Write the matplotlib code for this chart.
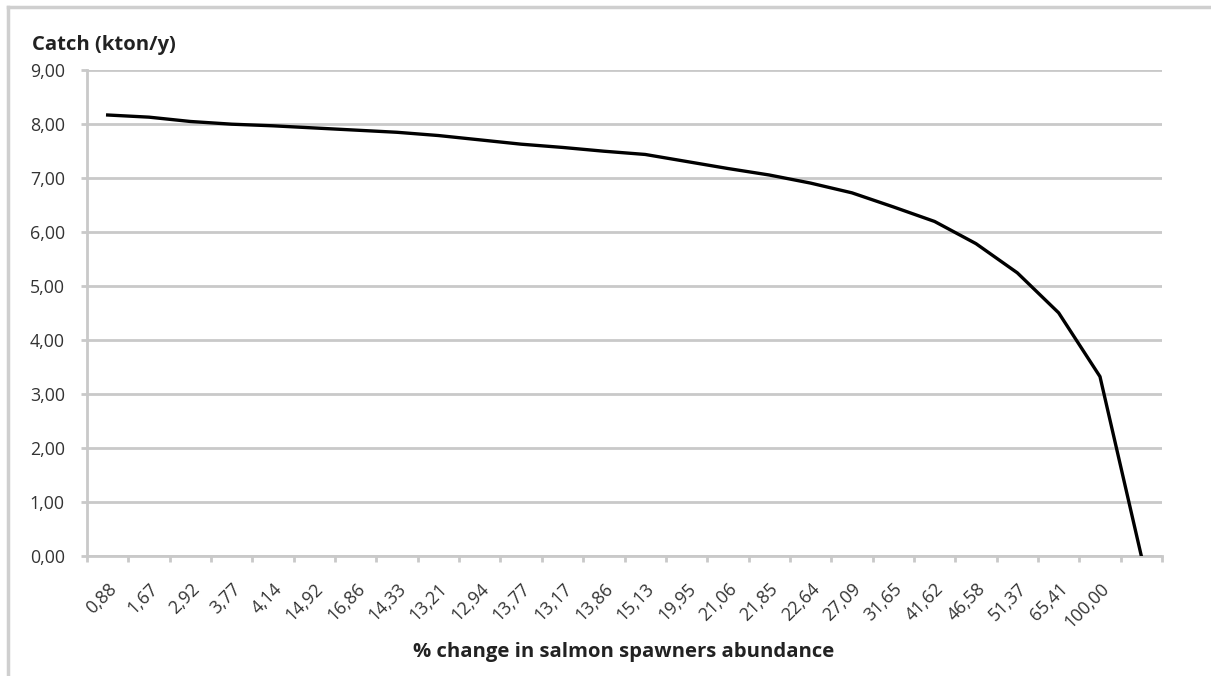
import matplotlib
matplotlib.use("Agg")
import matplotlib.pyplot as plt
from matplotlib.lines import Line2D
import numpy as np

# Salmon spawner abundance change (%) per scenario, and resulting catch
categories = ["0,88", "1,67", "2,92", "3,77", "4,14", "14,92", "16,86", "14,33",
              "13,21", "12,94", "13,77", "13,17", "13,86", "15,13", "19,95",
              "21,06", "21,85", "22,64", "27,09", "31,65", "41,62", "46,58",
              "51,37", "65,41", "100,00", ""]
catch = [8.16, 8.12, 8.04, 7.99, 7.96, 7.92, 7.88, 7.84, 7.78, 7.70, 7.62,
         7.56, 7.49, 7.43, 7.30, 7.17, 7.05, 6.90, 6.72, 6.46, 6.19, 5.78,
         5.24, 4.50, 3.32, 0.00]
y_ticks = [0, 1, 2, 3, 4, 5, 6, 7, 8, 9]

GRID = "#c9c9c9"
TEXT = "#333333"
FONT = ["Open Sans", "DejaVu Sans"]

fig = plt.figure(figsize=(12.11, 6.76), dpi=100)
ax = fig.add_axes([87 / 1211, 1 - 556 / 676, (1162 - 87) / 1211, (556 - 69.6) / 676])

x = np.arange(len(categories))
ax.plot(x, catch, color="black", lw=2.4, solid_joinstyle="round", zorder=3)

ax.set_xlim(-0.5, len(categories) - 0.5)
ax.set_ylim(0, 9)

ax.set_yticks(y_ticks)
ax.set_yticklabels([f"{v:.2f}".replace(".", ",") for v in y_ticks],
                   fontsize=12.8, color=TEXT, family=FONT)
ax.yaxis.grid(True, color=GRID, lw=2)
ax.set_axisbelow(True)

ax.set_xticks(x)
ax.set_xticklabels(categories, rotation=45, ha="right", rotation_mode="anchor",
                   fontsize=12.8, color=TEXT, family=FONT)
ax.set_xticks(np.arange(-0.5, len(categories)), minor=True)
ax.tick_params(axis="x", which="major", length=0, pad=17)
ax.tick_params(axis="x", which="minor", length=4, width=2, color=GRID)
ax.tick_params(axis="y", length=4, width=2, color=GRID, pad=12)

for side in ("top", "right"):
    ax.spines[side].set_visible(False)
for side in ("left", "bottom"):
    ax.spines[side].set_color(GRID)
    ax.spines[side].set_linewidth(2)

fig.text(32 / 1211, 1 - 50 / 676, "Catch (kton/y)", fontsize=14.6,
         fontweight="bold", color="#222222", family=FONT, ha="left", va="baseline")
fig.text(624 / 1211, 1 - 657 / 676, "% change in salmon spawners abundance",
         fontsize=14.6, fontweight="bold", color="#222222", family=FONT,
         ha="center", va="baseline")

# Frame edges on the left and top of the figure
fig.add_artist(Line2D([8 / 1211, 8 / 1211], [0, 1 - 7 / 676],
                      transform=fig.transFigure, color="#cfcfcf", lw=2.5))
fig.add_artist(Line2D([8 / 1211, 1], [1 - 7 / 676, 1 - 7 / 676],
                      transform=fig.transFigure, color="#cfcfcf", lw=2.5))

fig.savefig("out.png", dpi=100, facecolor="white")
